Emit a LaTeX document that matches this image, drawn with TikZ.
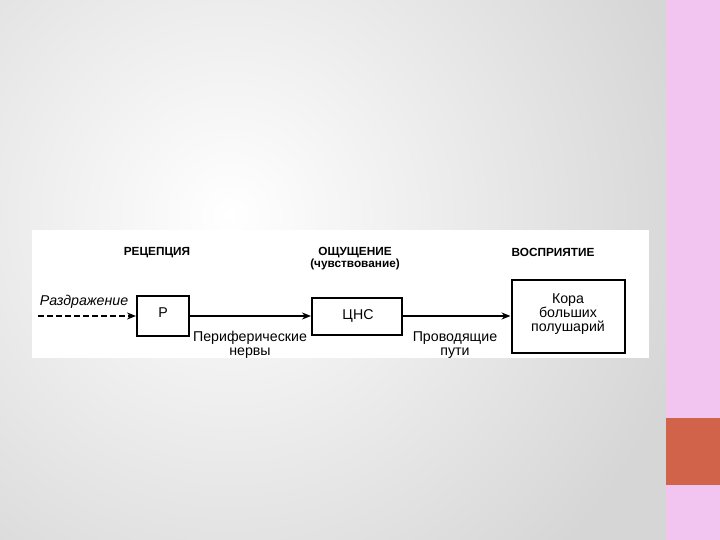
\documentclass[tikz,border=0pt]{standalone}
\usepackage{fontspec}
\setmainfont{Liberation Sans}
\usetikzlibrary{arrows.meta}
\definecolor{slidegray}{RGB}{214,214,214}
\definecolor{sidepink}{RGB}{242,196,240}
\definecolor{sidered}{RGB}{208,99,74}
\tikzset{
	blockbox/.style={draw, line width=2pt, inner sep=0pt},
	headtext/.style={font=\fontsize{11.8}{11.5}\selectfont\bfseries},
	labeltext/.style={font=\fontsize{14.2}{13.6}\selectfont, align=center},
	flow/.style={line width=1.8pt, -{Stealth[length=9pt,width=7pt]}}
}

\begin{document}
\begin{tikzpicture}[x=1pt,y=-1pt]
			\useasboundingbox (0,0) rectangle (720,540);
			\begin{scope}
				\clip (0,0) rectangle (666,540);
				\fill[slidegray] (0,0) rectangle (666,540);
				\shade[inner color=white, outer color=slidegray] (230,215) circle (470);
			\end{scope}
			\fill[sidepink] (666,0) rectangle (720,540);
			\fill[sidered] (666,418) rectangle (720,485);
			\fill[white] (32,230) rectangle (649,358);
			\node[headtext] (rec) at (157,253) {РЕЦЕПЦИЯ};
			\node[headtext] (sens) at (355,253) {ОЩУЩЕНИЕ};
			\node[headtext] (sens2) at (355,264) {(чувствование)};
			\node[headtext] (perc) at (553,252) {ВОСПРИЯТИЕ};
			\node[blockbox, minimum width=52pt, minimum height=40pt] (r) at (163,316) {};
			\node[labeltext] at (163,313) {Р};
			\node[blockbox, minimum width=90pt, minimum height=37pt] (cns) at (357,316) {};
			\node[labeltext] at (358,316) {ЦНС};
			\node[blockbox, minimum width=113pt, minimum height=73pt] (cortex) at (568,316) {};
			\node[labeltext] at (568,314) {Кора\\больших\\полушарий};
			\node[labeltext, font=\fontsize{14.2}{13.6}\selectfont\itshape] (stim) at (84,302) {Раздражение};
			\coordinate (start) at (38,316);
			\draw[flow, dashed, dash pattern=on 6pt off 3pt] (start) -- (r);
			\draw[flow] (r) -- (cns);
			\draw[flow] (cns) -- (cortex);
			\node[labeltext] (nerves) at (250,345) {Периферические\\нервы};
			\node[labeltext] (paths) at (455,345) {Проводящие\\пути};
		\end{tikzpicture}
\end{document}
